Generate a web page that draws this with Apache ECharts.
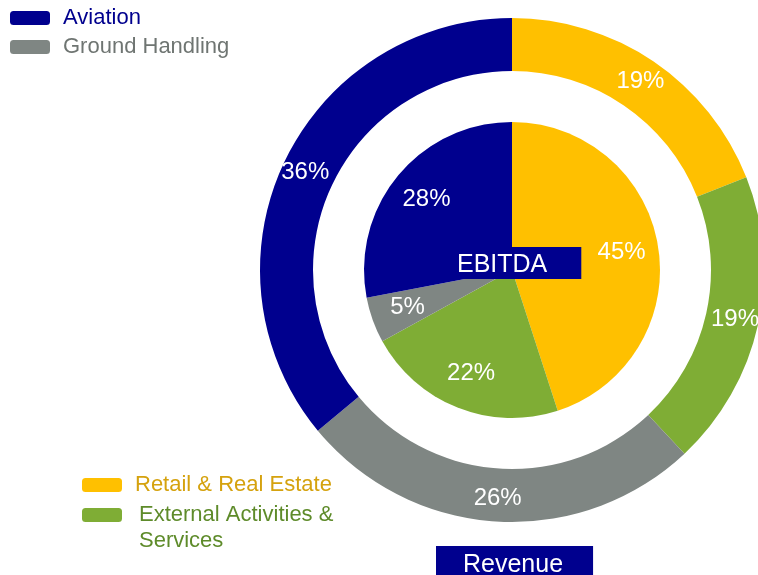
<!DOCTYPE html>
<html>
<head>
<meta charset="utf-8">
<script src="https://cdn.jsdelivr.net/npm/echarts@6/dist/echarts.min.js"></script>
<style>
  html, body { margin: 0; padding: 0; background: #fff; }
  #chart { width: 758px; height: 575px; }
</style>
</head>
<body>
<div id="chart"></div>
<script>
// segments, clockwise from 12 o'clock
const segments = ['Retail & Real Estate', 'External Activities & Services', 'Ground Handling', 'Aviation'];
const revenueShare = [19, 19, 26, 36];
const ebitdaShare = [45, 22, 5, 28];
const colors = ['#FFC000', '#7FAD35', '#7F8683', '#00008E'];
const legendTextColors = ['#D5A20E', '#5E8B2A', '#6F7572', '#00008E'];

const font = '"Liberation Sans", Arial, sans-serif';
const chart = echarts.init(document.getElementById('chart'));

function pieData(values) {
  return segments.map(function (name, i) {
    return { name: name, value: values[i], itemStyle: { color: colors[i] } };
  });
}

const percentLabel = {
  show: true,
  position: 'inside',
  formatter: '{c}%',
  color: '#fff',
  fontSize: 24,
  fontFamily: font
};

const option = {
  animation: false,
  title: [
    {
      text: 'EBITDA',
      left: 447,
      top: 247,
      padding: [5, 34, 1, 10],
      backgroundColor: '#00008E',
      textStyle: { color: '#fff', fontSize: 25, fontWeight: 'normal', fontFamily: font, lineHeight: 26 }
    },
    {
      text: 'Revenue',
      left: 436,
      top: 546,
      padding: [6, 30, 3, 27],
      backgroundColor: '#00008E',
      textStyle: { color: '#fff', fontSize: 25, fontWeight: 'normal', fontFamily: font, lineHeight: 26 }
    }
  ],
  legend: [
    {
      orient: 'vertical',
      left: 10,
      top: 6,
      padding: 0,
      itemWidth: 40,
      itemHeight: 14,
      itemGap: 5,
      icon: 'roundRect',
      selectedMode: false,
      textStyle: { fontSize: 22, fontFamily: font, lineHeight: 24, padding: [0, 0, 0, 8] },
      data: [
        { name: segments[3], textStyle: { color: legendTextColors[3] } },
        { name: segments[2], textStyle: { color: legendTextColors[2] } }
      ]
    },
    {
      orient: 'vertical',
      left: 82,
      top: 473,
      padding: 0,
      itemWidth: 40,
      itemHeight: 14,
      icon: 'roundRect',
      selectedMode: false,
      textStyle: { fontSize: 22, fontFamily: font, lineHeight: 24, padding: [0, 0, 0, 8] },
      data: [{ name: segments[0], textStyle: { color: legendTextColors[0] } }]
    },
    {
      orient: 'vertical',
      left: 82,
      top: 476,
      padding: 0,
      itemWidth: 40,
      itemHeight: 14,
      icon: 'roundRect',
      selectedMode: false,
      // empty first line keeps the first text line level with the swatch
      formatter: function () { return '\nExternal Activities &\nServices'; },
      textStyle: { fontSize: 22, fontFamily: font, lineHeight: 26, padding: [0, 0, 0, 12] },
      data: [{ name: segments[1], textStyle: { color: legendTextColors[1] } }]
    }
  ],
  series: [
    {
      name: 'Revenue',
      type: 'pie',
      center: [512, 270],
      radius: [199, 252],
      startAngle: 90,
      clockwise: true,
      silent: true,
      label: percentLabel,
      labelLine: { show: false },
      data: pieData(revenueShare)
    },
    {
      name: 'EBITDA',
      type: 'pie',
      center: [512, 270],
      radius: [0, 148],
      startAngle: 90,
      clockwise: true,
      silent: true,
      label: { show: false },
      labelLine: { show: false },
      data: pieData(ebitdaShare)
    },
    {
      // transparent ring carrying the EBITDA labels further out
      name: 'EBITDA labels',
      type: 'pie',
      center: [512, 270],
      radius: [68, 148],
      startAngle: 90,
      clockwise: true,
      silent: true,
      itemStyle: { color: 'rgba(0,0,0,0)' },
      label: percentLabel,
      labelLine: { show: false },
      data: segments.map(function (name, i) {
        return { name: name, value: ebitdaShare[i] };
      })
    }
  ]
};

chart.setOption(option);
</script>
</body>
</html>
